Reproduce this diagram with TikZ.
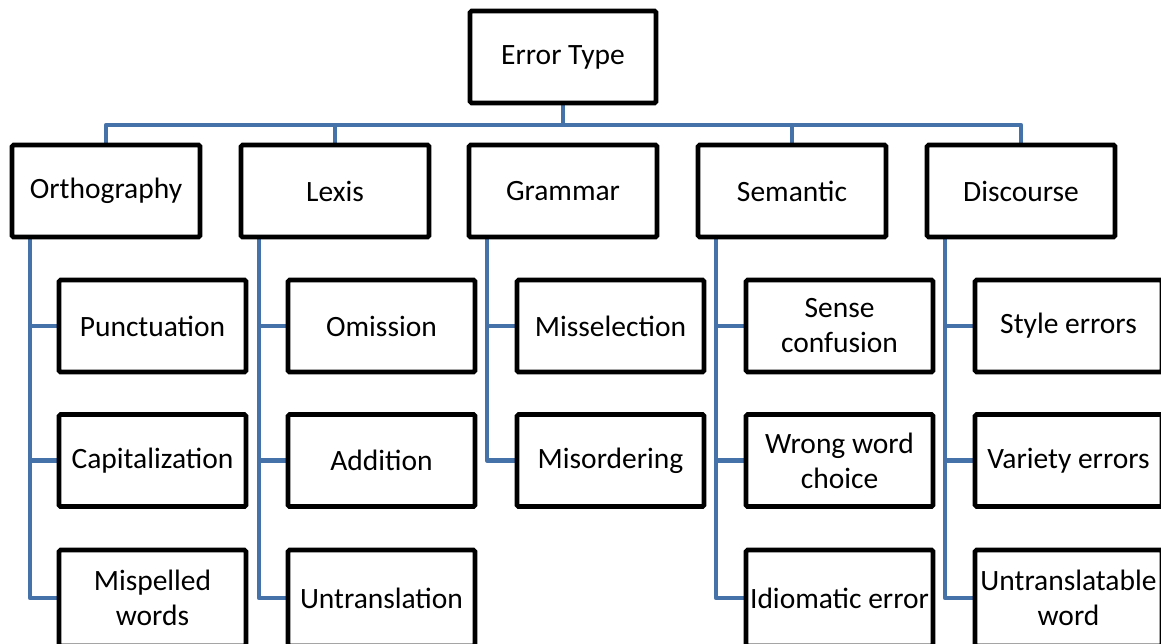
\documentclass[tikz,border=0pt]{standalone}
\usepackage{fontspec}
\setmainfont{Carlito}
\usetikzlibrary{backgrounds}
\definecolor{linkblue}{HTML}{4672AA}
\begin{document}
\begin{tikzpicture}[x=1pt,y=-1pt,
  box/.style={draw=black,line width=4.6pt,rounded corners=1.5pt,fill=white,
    align=center,inner sep=0pt,minimum height=92pt,
    font=\fontsize{29.5}{35}\selectfont},
  rootbox/.style={box,minimum width=186pt},
  catbox/.style={box,minimum width=188pt},
  itembox/.style={box,minimum width=187pt},
  lastbox/.style={itembox,minimum height=96pt},
  link/.style={draw=linkblue,line width=4.4pt,line join=round}]
\useasboundingbox (0,0) rectangle (1161,643);
\begin{scope}
\clip (0,0) rectangle (1161,643);
% root
\node[rootbox] (root) at (563,57) {Error Type};
% categories
\node[catbox] (orth) at (106,191) {Orthography};
\node[catbox] (lex)  at (335,191) {Lexis};
\node[catbox] (gram) at (563,191) {Grammar};
\node[catbox] (sem)  at (792,191) {Semantic};
\node[catbox] (disc) at (1021,191) {Discourse};
% orthography
\node[itembox] (o1) at (152.5,326) {Punctuation};
\node[itembox] (o2) at (152.5,460.5) {Capitalization};
\node[lastbox] (o3) at (152.5,598) {Mispelled\\words};
% lexis
\node[itembox] (l1) at (381.5,326) {Omission};
\node[itembox] (l2) at (381.5,460.5) {Addition};
\node[lastbox] (l3) at (381.5,598) {Untranslation};
% grammar
\node[itembox] (g1) at (610.5,326) {Misselection};
\node[itembox] (g2) at (610.5,460.5) {Misordering};
% semantic
\node[itembox] (s1) at (839.5,326) {Sense\\confusion};
\node[itembox] (s2) at (839.5,460.5) {Wrong word\\choice};
\node[lastbox] (s3) at (839.5,598) {Idiomatic error};
% discourse
\node[itembox] (d1) at (1068.5,326) {Style errors};
\node[itembox] (d2) at (1068.5,460.5) {Variety errors};
\node[lastbox] (d3) at (1068.5,598) {Untranslatable\\word};
\end{scope}
\begin{pgfonlayer}{background}
  % bus from the root to the categories
  \coordinate (bus) at (563,125);
  \draw[link] (root.south) -- (bus);
  \draw[link] (orth.north) |- (bus) -| (disc.north);
  \draw[link] (lex.north) -- (lex.north |- bus);
  \draw[link] (sem.north) -- (sem.north |- bus);
  % trunks under each category
  \foreach \p in {orth,lex,gram,sem,disc}
    \coordinate (\p-trunk) at ([xshift=-76pt]\p.south);
  \foreach \p/\c in {orth/o,lex/l,sem/s,disc/d} {
    \draw[link] (\p-trunk) |- (\c3.west);
    \draw[link] (\p-trunk |- \c1.west) -- (\c1.west);
    \draw[link] (\p-trunk |- \c2.west) -- (\c2.west);
  }
  \draw[link] (gram-trunk) |- (g2.west);
  \draw[link] (gram-trunk |- g1.west) -- (g1.west);
\end{pgfonlayer}
\end{tikzpicture}
\end{document}
